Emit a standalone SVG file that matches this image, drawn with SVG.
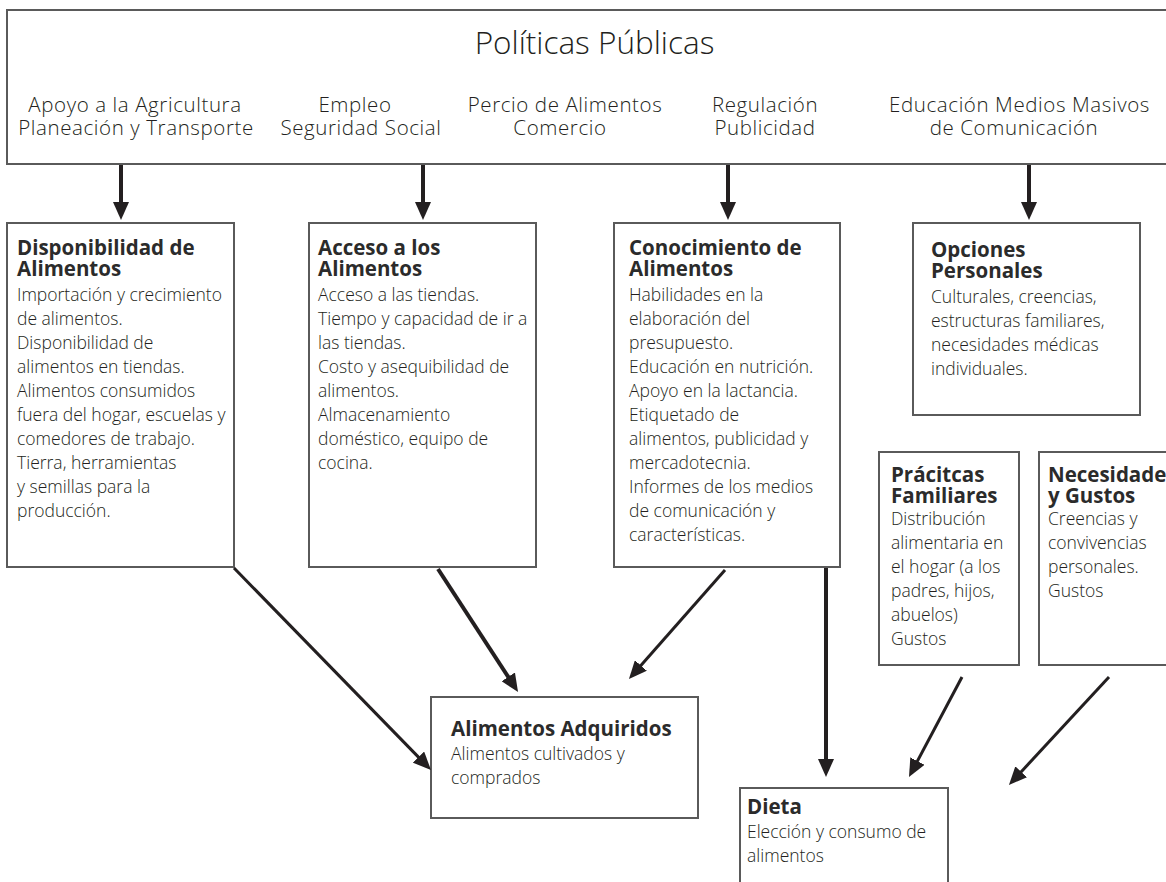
<svg xmlns="http://www.w3.org/2000/svg" width="1166" height="882" viewBox="0 0 1166 882">
<style>
.box{fill:#fff;stroke:#5a5a5a;stroke-width:2}
.h{font-family:"Open Sans","Noto Sans",sans-serif;fill:#231f20;font-weight:300}
.title{font-size:31.5px}
.sub{font-size:20.5px;letter-spacing:0.6px;text-anchor:middle}
.t{font-family:"Open Sans","Noto Sans",sans-serif;font-weight:700;font-size:20.5px;fill:#2b2b2b}
.b{font-family:"Open Sans","Noto Sans",sans-serif;font-weight:300;font-size:17.5px;fill:#231f20}
.c{fill:none;stroke:#231f20;stroke-width:3}
.c4{fill:none;stroke:#231f20;stroke-width:4}
</style>
<defs>
<marker id="ah" markerUnits="userSpaceOnUse" markerWidth="18" markerHeight="16" refX="6" refY="8" orient="auto" viewBox="0 0 18 16">
<path d="M0,0 L18,8 L0,16 z" fill="#231f20"/>
</marker>
</defs>
<rect width="1166" height="882" fill="#fff"/>

<g id="politicas">
<rect class="box" x="7" y="10" width="1170" height="154"/>
<text class="h title" x="594.5" y="54" text-anchor="middle">Políticas Públicas</text>
<text class="h sub" x="135" y="112">Apoyo a la Agricultura</text>
<text class="h sub" x="136" y="135">Planeación y Transporte</text>
<text class="h sub" x="355" y="112">Empleo</text>
<text class="h sub" x="361" y="135">Seguridad Social</text>
<text class="h sub" x="565" y="112">Percio de Alimentos</text>
<text class="h sub" x="560" y="135">Comercio</text>
<text class="h sub" x="765" y="112">Regulación</text>
<text class="h sub" x="765" y="135">Publicidad</text>
<text class="h sub" x="1019.5" y="112">Educación Medios Masivos</text>
<text class="h sub" x="1014" y="135">de Comunicación</text>
</g>

<g id="disponibilidad">
<rect class="box" x="7" y="223" width="227" height="344"/>
<text class="t" x="17" y="255">Disponibilidad de</text>
<text class="t" x="17" y="276">Alimentos</text>
<text class="b" x="17" y="301">Importación y crecimiento</text>
<text class="b" x="17" y="325">de alimentos.</text>
<text class="b" x="17" y="349">Disponibilidad de</text>
<text class="b" x="17" y="373">alimentos en tiendas.</text>
<text class="b" x="17" y="397">Alimentos consumidos</text>
<text class="b" x="17" y="421">fuera del hogar, escuelas y</text>
<text class="b" x="17" y="445">comedores de trabajo.</text>
<text class="b" x="17" y="469">Tierra, herramientas</text>
<text class="b" x="17" y="493">y semillas para la</text>
<text class="b" x="17" y="517">producción.</text>
</g>

<g id="acceso">
<rect class="box" x="309" y="223" width="227" height="344"/>
<text class="t" x="318" y="255">Acceso a los</text>
<text class="t" x="318" y="276">Alimentos</text>
<text class="b" x="318" y="301">Acceso a las tiendas.</text>
<text class="b" x="318" y="325">Tiempo y capacidad de ir a</text>
<text class="b" x="318" y="349">las tiendas.</text>
<text class="b" x="318" y="373">Costo y asequibilidad de</text>
<text class="b" x="318" y="397">alimentos.</text>
<text class="b" x="318" y="421">Almacenamiento</text>
<text class="b" x="318" y="445">doméstico, equipo de</text>
<text class="b" x="318" y="469">cocina.</text>
</g>

<g id="conocimiento">
<rect class="box" x="614" y="223" width="226" height="344"/>
<text class="t" x="629" y="255">Conocimiento de</text>
<text class="t" x="629" y="276">Alimentos</text>
<text class="b" x="629" y="301">Habilidades en la</text>
<text class="b" x="629" y="325">elaboración del</text>
<text class="b" x="629" y="349">presupuesto.</text>
<text class="b" x="629" y="373">Educación en nutrición.</text>
<text class="b" x="629" y="397">Apoyo en la lactancia.</text>
<text class="b" x="629" y="421">Etiquetado de</text>
<text class="b" x="629" y="445">alimentos, publicidad y</text>
<text class="b" x="629" y="469">mercadotecnia.</text>
<text class="b" x="629" y="493">Informes de los medios</text>
<text class="b" x="629" y="517">de comunicación y</text>
<text class="b" x="629" y="541">características.</text>
</g>

<g id="opciones">
<rect class="box" x="913" y="223" width="227" height="192"/>
<text class="t" x="931" y="257">Opciones</text>
<text class="t" x="931" y="278">Personales</text>
<text class="b" x="931" y="303">Culturales, creencias,</text>
<text class="b" x="931" y="327">estructuras familiares,</text>
<text class="b" x="931" y="351">necesidades médicas</text>
<text class="b" x="931" y="375">individuales.</text>
</g>

<g id="practicas">
<rect class="box" x="879" y="452" width="140" height="213"/>
<text class="t" x="891" y="482">Prácitcas</text>
<text class="t" x="891" y="503">Familiares</text>
<text class="b" x="891" y="525">Distribución</text>
<text class="b" x="891" y="549">alimentaria en</text>
<text class="b" x="891" y="573">el hogar (a los</text>
<text class="b" x="891" y="597">padres, hijos,</text>
<text class="b" x="891" y="621">abuelos)</text>
<text class="b" x="891" y="645">Gustos</text>
</g>

<g id="necesidades">
<rect class="box" x="1039" y="452" width="140" height="213"/>
<text class="t" x="1048" y="482">Necesidades</text>
<text class="t" x="1048" y="503">y Gustos</text>
<text class="b" x="1048" y="525">Creencias y</text>
<text class="b" x="1048" y="549">convivencias</text>
<text class="b" x="1048" y="573">personales.</text>
<text class="b" x="1048" y="597">Gustos</text>
</g>

<g id="adquiridos">
<rect class="box" x="431" y="697" width="267" height="121"/>
<text class="t" x="451" y="736">Alimentos Adquiridos</text>
<text class="b" x="451" y="760">Alimentos cultivados y</text>
<text class="b" x="451" y="784">comprados</text>
</g>

<g id="dieta">
<rect class="box" x="740" y="788" width="208" height="110"/>
<text class="t" x="747" y="814">Dieta</text>
<text class="b" x="747" y="838">Elección y consumo de</text>
<text class="b" x="747" y="862">alimentos</text>
</g>

<g id="connectors">
<path class="c4" d="M121,165 L121,208" marker-end="url(#ah)"/>
<path class="c4" d="M423,165 L423,208" marker-end="url(#ah)"/>
<path class="c4" d="M728,165 L728,208" marker-end="url(#ah)"/>
<path class="c4" d="M1029,165 L1029,208" marker-end="url(#ah)"/>
<path class="c" d="M234,568 L422.6,761.4" marker-end="url(#ah)"/>
<path class="c4" d="M438,569 L511.5,681.9" marker-end="url(#ah)"/>
<path class="c" d="M725,570 L636.9,670" marker-end="url(#ah)"/>
<path class="c4" d="M826,568 L826,765" marker-end="url(#ah)"/>
<path class="c" d="M962,677 L914.6,766.4" marker-end="url(#ah)"/>
<path class="c" d="M1109,677 L1017.1,776.2" marker-end="url(#ah)"/>
</g>
</svg>
